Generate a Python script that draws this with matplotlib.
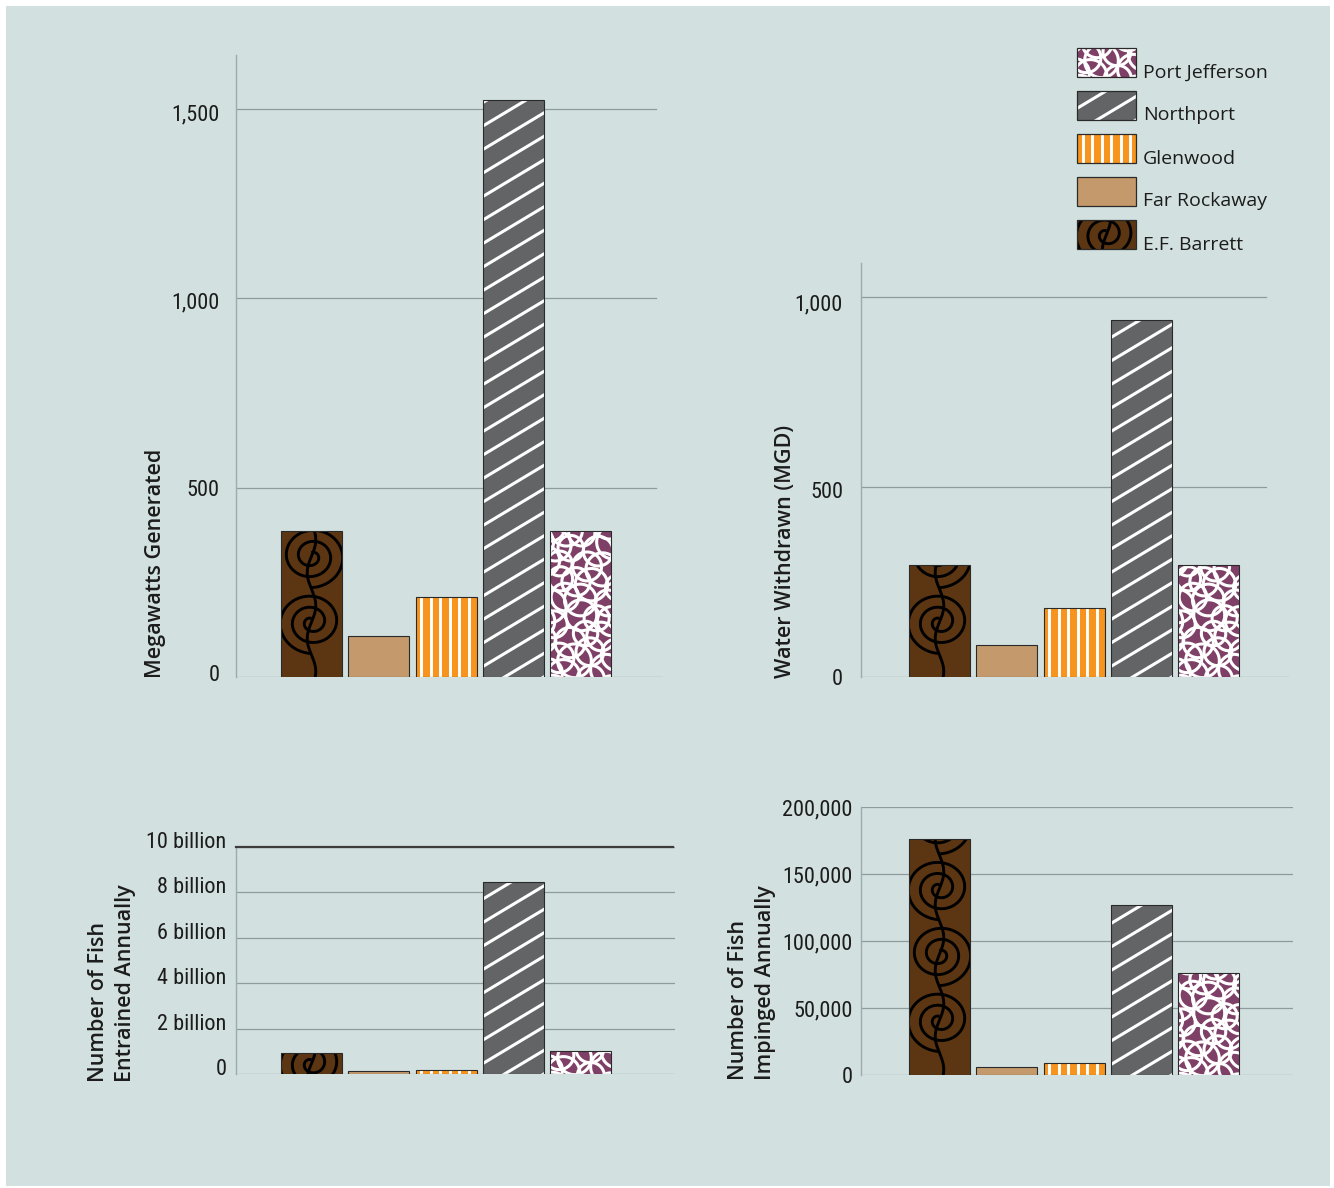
import numpy as np
import matplotlib
matplotlib.use("Agg")
import matplotlib.pyplot as plt
from matplotlib.patches import Rectangle
from matplotlib.transforms import ScaledTranslation

# ---------------- data ----------------
plants = ["E.F. Barrett", "Far Rockaway", "Glenwood", "Northport", "Port Jefferson"]
colors = ["#5c3613", "#c49a6c", "#f7941d", "#636466", "#7f4068"]
patterns = ["spiral", "plain", "stripes", "diag", "circles"]

megawatts = [385, 109, 211, 1523, 385]
water_mgd = [295, 84, 182, 940, 295]
entrained_billion = [0.93, 0.12, 0.19, 8.45, 1.02]
impinged = [176000, 6200, 9200, 127000, 76000]

mw_ticks = [0, 500, 1000, 1500]
mw_ticklabels = ["0", "500", "1,000", "1,500"]
mgd_ticks = [0, 500, 1000]
mgd_ticklabels = ["0", "500", "1,000"]
ent_ticks = [0, 2, 4, 6, 8, 10]
ent_ticklabels = ["0", "2 billion", "4 billion", "6 billion", "8 billion", "10 billion"]
imp_ticks = [0, 50000, 100000, 150000, 200000]
imp_ticklabels = ["0", "50,000", "100,000", "150,000", "200,000"]

# ---------------- style ----------------
W, H, DPI = 1334, 1188, 100
BG = "#d2e1df"
GRID = "#8e9d9c"
SPINE = "#9eabaa"
EDGE = "#2a2a2a"
TXT = "#1c1c1c"
TICKFONT = "Roboto Condensed"
LABFONT = "Open Sans"

fig = plt.figure(figsize=(W / DPI, H / DPI), dpi=DPI, facecolor="white")
fig.add_artist(Rectangle((6 / W, 2 / H), 1324 / W, 1180 / H, transform=fig.transFigure,
                         facecolor=BG, edgecolor="none", zorder=0))


def px_axes(l, t, r, b):
    return fig.add_axes([l / W, 1 - b / H, (r - l) / W, (b - t) / H])


def frac(v):
    return v - np.floor(v)


def decorate(ax, patch, kind):
    bb = patch.get_window_extent()
    x0, y0, x1, y1 = bb.x0, bb.y0, bb.x1, bb.y1
    w, h = x1 - x0, y1 - y0
    if w <= 0 or h <= 0:
        return
    inv = ax.transData.inverted()
    paths = []
    color, lw = "white", 2.0
    if kind == "diag":
        s, k = 23.5, 0.6
        c = -k * w - s
        while c < h + s:
            paths.append(np.array([[x0 - 2, y0 + c - 2 * k], [x1 + 2, y0 + c + k * (w + 2)]]))
            c += s
        color, lw = "white", 2.2
    elif kind == "stripes":
        xs = x0 + 5.5
        while xs < x1:
            paths.append(np.array([[xs, y0 - 2], [xs, y1 + 2]]))
            xs += 9.6
        color, lw = "white", 2.1
    elif kind == "spiral":
        color, lw = "black", 2.1
        p = 1.08 * w
        cx = (x0 + x1) / 2
        rmax = 0.56 * w
        yc0 = y0 + min(0.9 * w, 0.5 * h)
        j = 0
        yc = yc0
        while yc - rmax < y1:
            d = 1 if j % 2 == 0 else -1
            th = np.linspace(0, 5.0 * np.pi, 400)
            r = 4 + (rmax - 4) * th / th[-1]
            xs = cx + d * r * np.cos(th + np.pi / 2)
            ys = yc + r * np.sin(th + np.pi / 2) * 0.92
            paths.append(np.column_stack([xs, ys]))
            j += 1
            yc += p
        yy = np.linspace(y0 - 2, y1 + 2, 200)
        xx = cx + 0.07 * w * np.sin(2 * np.pi * (yy - yc0) / p)
        paths.append(np.column_stack([xx, yy]))
    elif kind == "circles":
        color, lw = "white", 2.2
        r0, sx, sy = 14.5, 20.0, 18.0
        n = 0
        i = 0
        yc = y0 - r0
        th = np.linspace(0, 2 * np.pi, 72)
        while yc < y1 + r0:
            off = (i % 2) * sx / 2
            xc = x0 - r0 + off
            while xc < x1 + r0:
                n += 1
                jx = (frac(n * 0.6180339) - 0.5) * 12
                jy = (frac(n * 0.7548776) - 0.5) * 12
                rr = r0 + (frac(n * 0.4142136) - 0.5) * 5
                paths.append(np.column_stack([xc + jx + rr * np.cos(th), yc + jy + rr * np.sin(th)]))
                xc += sx
            yc += sy
            i += 1
    for pth in paths:
        dd = inv.transform(pth)
        ln, = ax.plot(dd[:, 0], dd[:, 1], color=color, lw=lw, solid_capstyle="butt", zorder=3)
        ln.set_clip_path(patch)


def setup(ax, xlim, ylim, ticks, labels, grid_frac, label_dy, pad):
    ax.set_facecolor("none")
    ax.set_xlim(*xlim)
    ax.set_ylim(*ylim)
    for sp in ["top", "right", "bottom"]:
        ax.spines[sp].set_visible(False)
    ax.spines["left"].set_color(SPINE)
    ax.spines["left"].set_linewidth(1.0)
    ax.set_xticks([])
    ax.set_yticks(ticks)
    ax.set_yticklabels(labels, fontfamily=TICKFONT, fontsize=16, color=TXT)
    ax.tick_params(axis="y", length=0, pad=pad)
    for lab, dy in zip(ax.get_yticklabels(), label_dy):
        lab.set_transform(lab.get_transform() + ScaledTranslation(0, dy / DPI, fig.dpi_scale_trans))
    for t in ticks:
        ax.axhline(t, 0, 1 if t == 0 else grid_frac, color=GRID, lw=0.9, zorder=1)


def draw_bars(ax, values, width):
    x = np.arange(len(values))
    bars = ax.bar(x, values, width, color=colors, edgecolor="none", zorder=2)
    for b, kind in zip(bars, patterns):
        if kind != "plain":
            decorate(ax, b, kind)
    ax.bar(x, values, width, facecolor="none", edgecolor=EDGE, lw=0.8, zorder=4)


BW = 61 / 67.25
# pitch 67.25 px; left-chart bar centre 311.5 px; right-chart 939.5 px
ax1 = px_axes(236, 55, 663, 677)
setup(ax1, ((236 - 311.5) / 67.25, (663 - 311.5) / 67.25), (0, 1642),
      mw_ticks, mw_ticklabels, (656 - 236) / (663 - 236), [4, 0, -2, -4], 12)
draw_bars(ax1, megawatts, BW)

ax2 = px_axes(861, 263, 1289, 677)
setup(ax2, ((861 - 939.5) / 67.25, (1289 - 939.5) / 67.25), (0, 1089),
      mgd_ticks, mgd_ticklabels, (1266 - 861) / (1289 - 861), [0, -3, -6], 13)
draw_bars(ax2, water_mgd, BW)

ax3 = px_axes(236, 847, 675, 1074)
setup(ax3, ((236 - 311.5) / 67.25, (675 - 311.5) / 67.25), (0, 10),
      ent_ticks, ent_ticklabels, 1.0, [7] * 6, 7)
ax3.axhline(10, 0, (673 - 236) / (675 - 236), color="#3c3c3c", lw=1.6, zorder=5, clip_on=False)
draw_bars(ax3, entrained_billion, BW)

ax4 = px_axes(861, 807, 1293, 1075)
setup(ax4, ((861 - 939.5) / 67.25, (1293 - 939.5) / 67.25), (0, 200000),
      imp_ticks, imp_ticklabels, 1.0, [0] * 5, 6)
draw_bars(ax4, impinged, BW)

# ---------------- axis titles ----------------
def ylabel(xpx, ypx, text):
    fig.text(xpx / W, 1 - ypx / H, text, rotation=90, rotation_mode="anchor",
             ha="left", va="center", fontfamily=LABFONT, fontsize=15.5, fontweight=600,
             color=TXT, linespacing=1.4, multialignment="left")

ylabel(155, 678, "Megawatts Generated")
ylabel(785, 678, "Water Withdrawn (MGD)")
ylabel(112, 1082, "Number of Fish\nEntrained Annually")
ylabel(752, 1080, "Number of Fish\nImpinged Annually")

# ---------------- legend ----------------
lax = px_axes(1060, 30, 1310, 260)
lax.set_xlim(1060, 1310)
lax.set_ylim(260, 30)
lax.axis("off")
order = list(range(len(plants)))[::-1]
for row, idx in enumerate(order):
    top = 48 + row * 43
    sw = Rectangle((1077, top), 59, 29, facecolor=colors[idx], edgecolor="none", zorder=2)
    lax.add_patch(sw)
    if patterns[idx] != "plain":
        decorate(lax, sw, patterns[idx])
    lax.add_patch(Rectangle((1077, top), 59, 29, facecolor="none", edgecolor=EDGE, lw=0.9, zorder=4))
    lax.text(1143, top + 24.5, plants[idx], ha="left", va="center",
             fontfamily=LABFONT, fontsize=14, color=TXT)

fig.savefig("out.png", dpi=DPI, facecolor="white")
